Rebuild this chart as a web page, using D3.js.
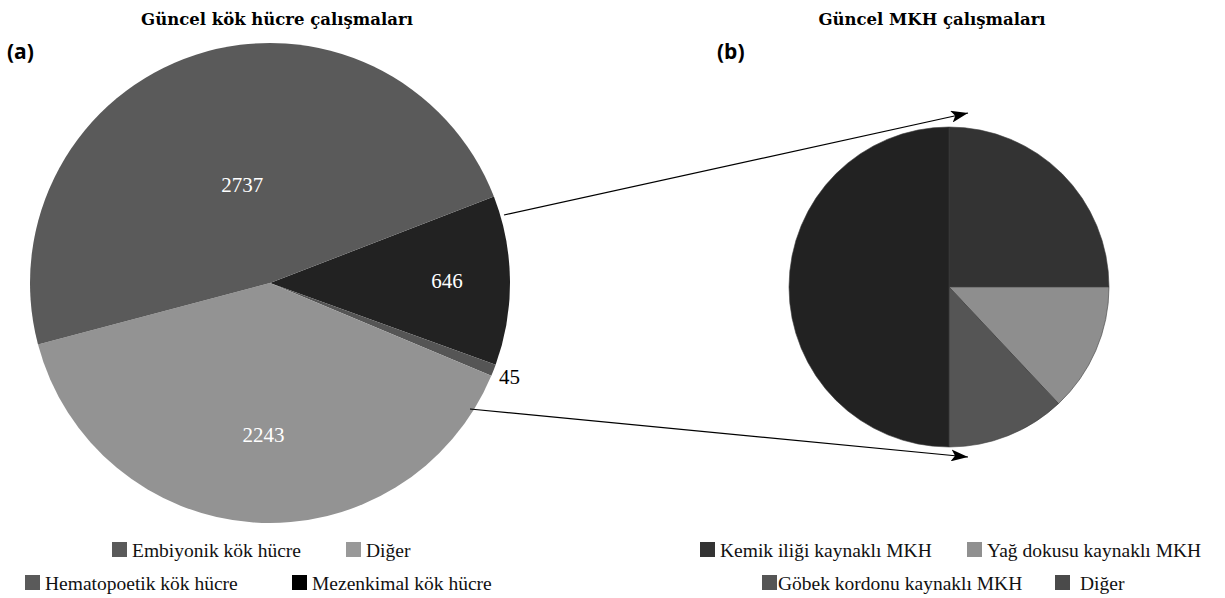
<!DOCTYPE html>
<html>
<head>
<meta charset="utf-8">
<script src="https://cdn.jsdelivr.net/npm/d3@7"></script>
<style>
  body { margin: 0; background: #fff; }
  svg { display: block; }
</style>
</head>
<body>
<svg id="chart" width="1225" height="598"></svg>
<script>
// (a) stem cell studies, clockwise from the upper right
const stemTypes = ["Mezenkimal kök hücre", "Hematopoetik kök hücre", "Diğer", "Embiyonik kök hücre"]
const stemCounts = [646, 45, 2243, 2737]
const stemColors = ["#222222", "#555555", "#939393", "#5a5a5a"]

// (b) MSC studies by source, clockwise from 12 o'clock (share in %)
const mkhTypes = ["Kemik iliği kaynaklı MKH", "Yağ dokusu kaynaklı MKH", "Göbek kordonu kaynaklı MKH", "Diğer"]
const mkhShares = [25, 13, 12, 50]
const mkhColors = ["#333333", "#8e8e8e", "#555555", "#222222"]

// legends as printed
const legendA = ["Embiyonik kök hücre", "Diğer", "Hematopoetik kök hücre", "Mezenkimal kök hücre"]
const legendAColors = ["#5a5a5a", "#999999", "#5a5a5a", "#000000"]
const legendB = ["Kemik iliği kaynaklı MKH", "Yağ dokusu kaynaklı MKH", "Göbek kordonu kaynaklı MKH", "Diğer"]
const legendBColors = ["#333333", "#909090", "#555555", "#4a4a4a"]

var svg = d3.select("#chart")
var deg = Math.PI / 180

// arrow head
svg.append("defs").append("marker")
  .attr("id", "head").attr("markerUnits", "userSpaceOnUse")
  .attr("markerWidth", 18).attr("markerHeight", 12)
  .attr("refX", 17).attr("refY", 6).attr("orient", "auto")
  .append("path").attr("d", "M0,0 L17,6 L0,12 L4,6 Z").attr("fill", "#000")

// titles
svg.append("text").attr("x", 277).attr("y", 25).attr("text-anchor", "middle")
  .style("font", "bold 16.5px 'DejaVu Serif'").text("Güncel kök hücre çalışmaları")
svg.append("text").attr("x", 932).attr("y", 25).attr("text-anchor", "middle")
  .style("font", "bold 16.5px 'DejaVu Serif'").text("Güncel MKH çalışmaları")
svg.append("text").attr("x", 7).attr("y", 59)
  .style("font", "bold 21px 'Open Sans'").text("(a)")
svg.append("text").attr("x", 717).attr("y", 59)
  .style("font", "bold 21px 'Open Sans'").text("(b)")

// ---- pie (a)
var rA = 240
var gA = svg.append("g").attr("transform", "translate(270,283)")
var pieA = d3.pie().sort(null).startAngle(68.9 * deg).endAngle(68.9 * deg + 2 * Math.PI)
var arcA = d3.arc().innerRadius(0).outerRadius(rA)
var slicesA = pieA(stemCounts)

gA.selectAll("path").data(slicesA).enter().append("path")
  .attr("d", arcA)
  .attr("fill", (d, i) => stemColors[i])

// label distance from centre for each slice (the small one sits outside)
var labelR = [177, 257, 152, 103]
var labelFill = ["#fff", "#000", "#fff", "#fff"]
gA.selectAll("text").data(slicesA).enter().append("text")
  .attr("x", (d, i) => Math.sin((d.startAngle + d.endAngle) / 2) * labelR[i] + (i > 1 ? 4 : 0))
  .attr("y", (d, i) => -Math.cos((d.startAngle + d.endAngle) / 2) * labelR[i] + 7)
  .attr("text-anchor", "middle")
  .attr("fill", (d, i) => labelFill[i])
  .style("font", "21px 'Liberation Serif'")
  .text(d => d.data)

// ---- pie (b)
var rB = 160
var gB = svg.append("g").attr("transform", "translate(949,287)")
var pieB = d3.pie().sort(null)
var arcB = d3.arc().innerRadius(0).outerRadius(rB)
gB.selectAll("path").data(pieB(mkhShares)).enter().append("path")
  .attr("d", arcB)
  .attr("fill", (d, i) => mkhColors[i])
  .attr("stroke", "#3c3c3c").attr("stroke-width", 0.6)

// ---- connecting arrows
svg.append("line").attr("x1", 504).attr("y1", 215).attr("x2", 968).attr("y2", 113)
  .attr("stroke", "#000").attr("stroke-width", 1.2).attr("marker-end", "url(#head)")
svg.append("line").attr("x1", 470).attr("y1", 409).attr("x2", 968).attr("y2", 457)
  .attr("stroke", "#000").attr("stroke-width", 1.2).attr("marker-end", "url(#head)")

// ---- legends
var legendPosA = [[112, 542], [346, 542], [25, 575], [292, 575]]
var legendPosB = [[700, 542], [967, 542], [762, 575], [1055, 575]]
var textGapB = [5, 5, 1, 10]

function drawLegend(names, colors, pos, gaps) {
  var g = svg.append("g")
  names.forEach(function(name, i) {
    g.append("rect").attr("x", pos[i][0]).attr("y", pos[i][1])
      .attr("width", 15).attr("height", 15).attr("fill", colors[i])
    g.append("text").attr("x", pos[i][0] + 15 + gaps[i]).attr("y", pos[i][1] + 15)
      .style("font", "19.5px 'Liberation Serif'").attr("fill", "#111")
      .text(name)
  })
}
drawLegend(legendA, legendAColors, legendPosA, [5, 5, 5, 5])
drawLegend(legendB, legendBColors, legendPosB, textGapB)
</script>
</body>
</html>
